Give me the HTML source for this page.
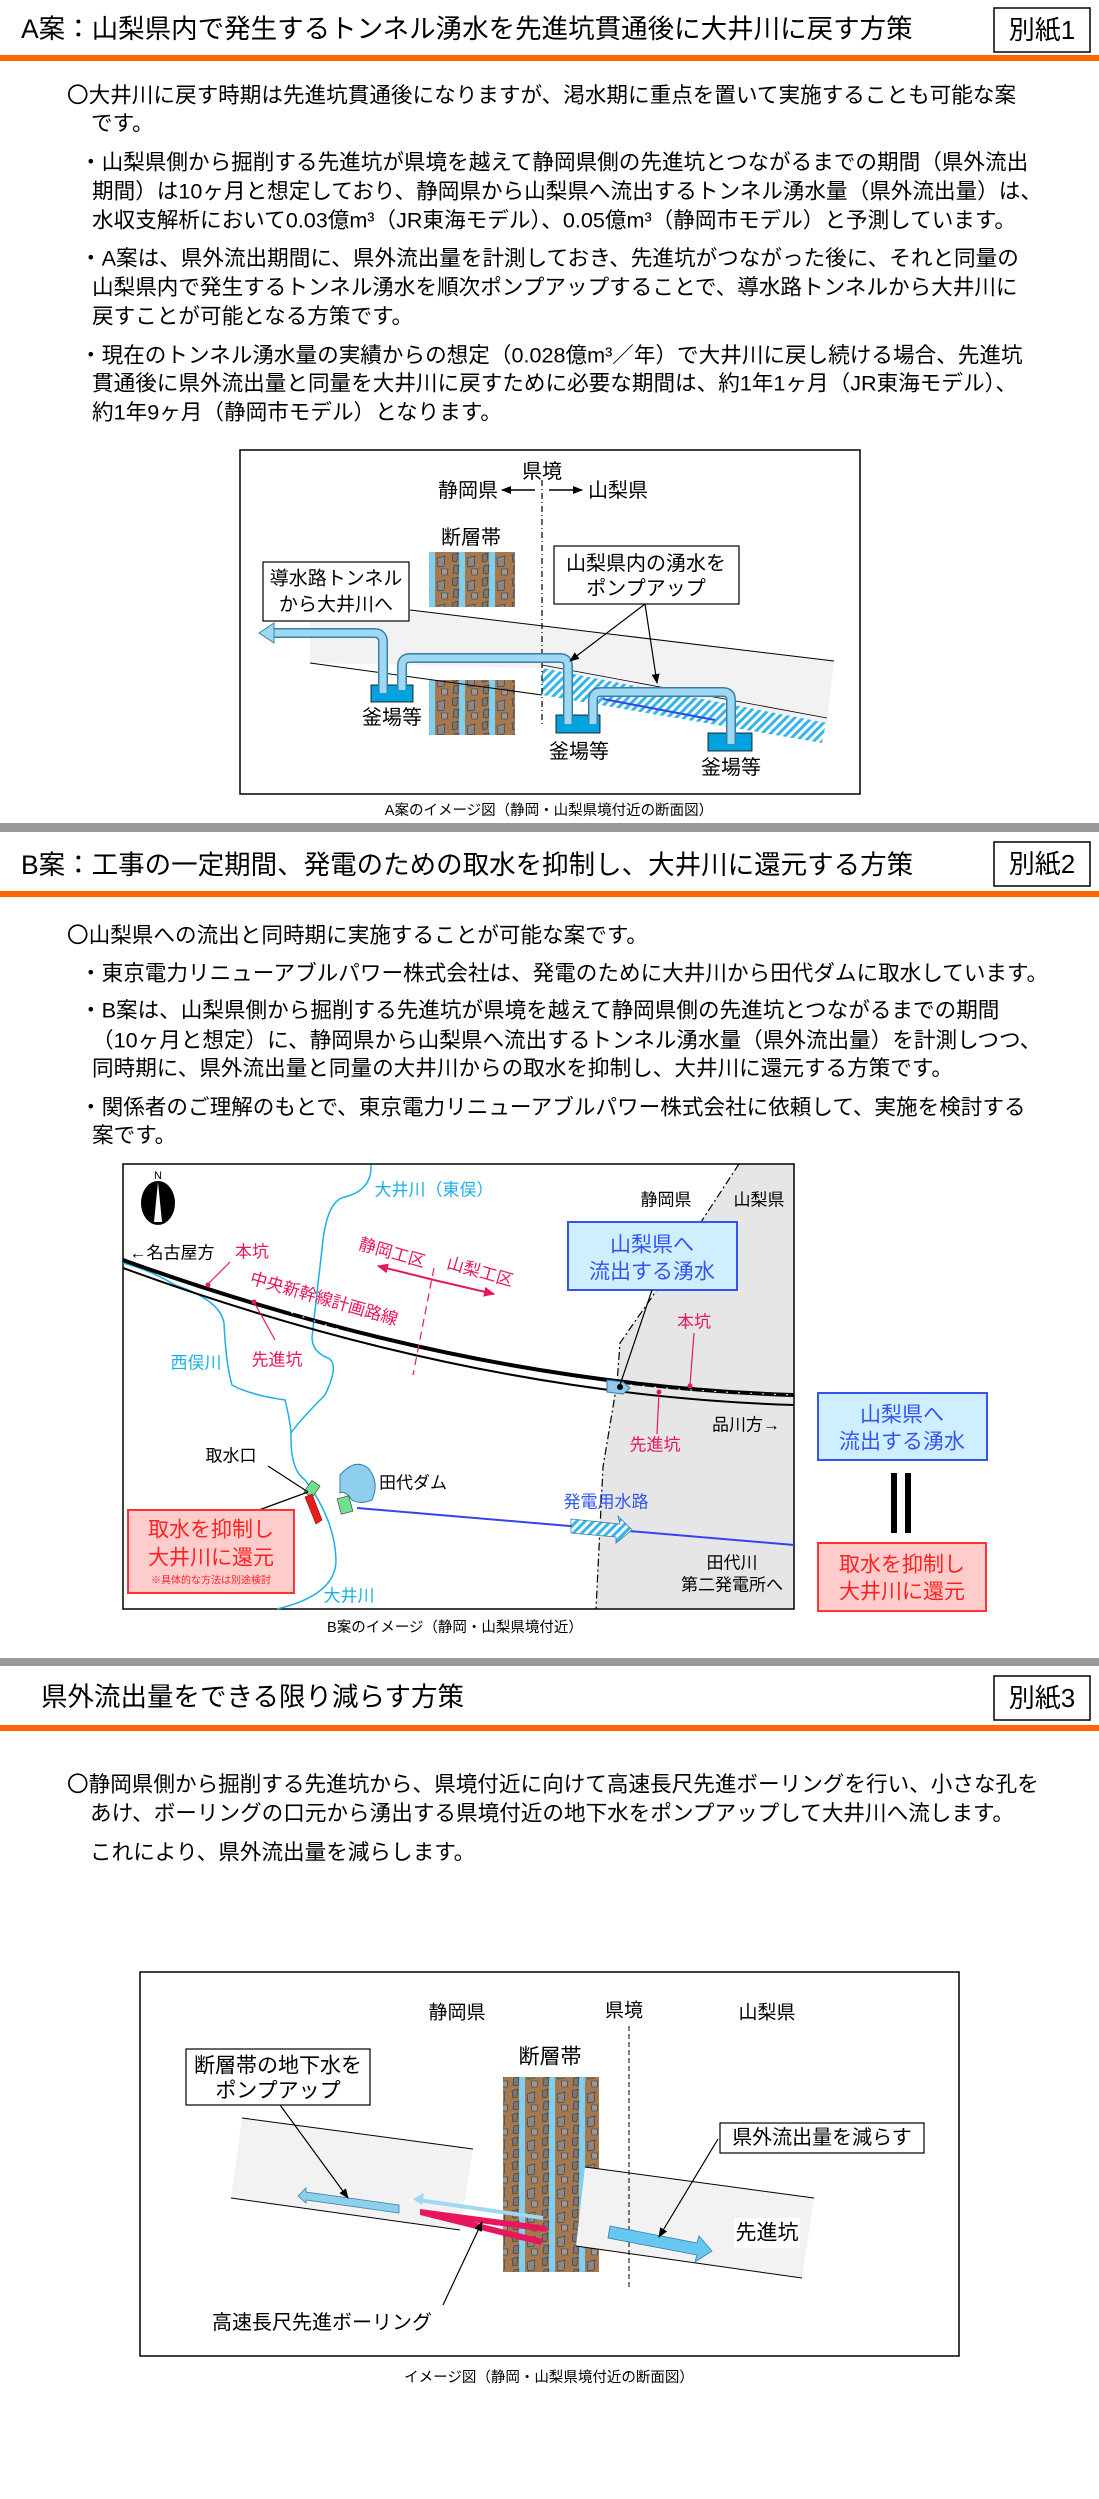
<!DOCTYPE html>
<html><head><meta charset="utf-8"><style>
html,body{margin:0;padding:0;background:#fff;}
svg{display:block;font-family:"Liberation Sans","Noto Sans CJK JP",sans-serif;}
</style></head><body>
<svg width="1099" height="2499" viewBox="0 0 1099 2499" xmlns="http://www.w3.org/2000/svg">
<defs>
<pattern id="hatch" width="6" height="6" patternUnits="userSpaceOnUse" patternTransform="rotate(45)">
<rect width="6" height="6" fill="#fff"/><rect width="3" height="6" fill="#33b5e8"/></pattern>
<pattern id="fault" width="30" height="24" patternUnits="userSpaceOnUse">
<rect width="30" height="24" fill="#a6784f"/>
<rect x="9" width="6" height="24" fill="#7fd0f0"/>
<polygon points="2,3 8,1 7,9 3,10" fill="#777" stroke="#333" stroke-width="0.6"/>
<polygon points="17,6 25,4 24,14 18,15" fill="#888" stroke="#333" stroke-width="0.6"/>
<polygon points="4,14 9,13 8,22 3,21" fill="#777" stroke="#333" stroke-width="0.6"/>
<polygon points="21,17 28,17 27,23 22,23" fill="#999" stroke="#333" stroke-width="0.6"/>
</pattern>
<marker id="ah" markerWidth="10" markerHeight="10" refX="9" refY="5" orient="auto" markerUnits="userSpaceOnUse"><path d="M0,1 L10,5 L0,9z" fill="#000"/></marker>
<marker id="ahp" markerWidth="12" markerHeight="12" refX="10" refY="6" orient="auto" markerUnits="userSpaceOnUse"><path d="M0,1 L11,6 L0,11z" fill="#e8175d"/></marker>
</defs>

<!-- ===== Section A ===== -->
<text x="21" y="29" font-size="26.5" dominant-baseline="central">A案：山梨県内で発生するトンネル湧水を先進坑貫通後に大井川に戻す方策</text>
<rect x="994" y="8" width="96" height="44" fill="none" stroke="#000" stroke-width="1.5"/>
<text x="1042" y="30" font-size="26" text-anchor="middle" dominant-baseline="central">別紙1</text>
<rect x="0" y="55" width="1099" height="6" fill="#ff6600"/>

<g font-size="21.6" dominant-baseline="central">
<text x="67" y="95">〇大井川に戻す時期は先進坑貫通後になりますが、渇水期に重点を置いて実施することも可能な案</text>
<text x="91" y="123">です。</text>
<text x="80" y="162">・山梨県側から掘削する先進坑が県境を越えて静岡県側の先進坑とつながるまでの期間（県外流出</text>
<text x="92" y="191">期間）は10ヶ月と想定しており、静岡県から山梨県へ流出するトンネル湧水量（県外流出量）は、</text>
<text x="92" y="220">水収支解析において0.03億m³（JR東海モデル）、0.05億m³（静岡市モデル）と予測しています。</text>
<text x="80" y="258">・A案は、県外流出期間に、県外流出量を計測しておき、先進坑がつながった後に、それと同量の</text>
<text x="92" y="287">山梨県内で発生するトンネル湧水を順次ポンプアップすることで、導水路トンネルから大井川に</text>
<text x="92" y="316">戻すことが可能となる方策です。</text>
<text x="80" y="355">・現在のトンネル湧水量の実績からの想定（0.028億m³／年）で大井川に戻し続ける場合、先進坑</text>
<text x="92" y="383">貫通後に県外流出量と同量を大井川に戻すために必要な期間は、約1年1ヶ月（JR東海モデル）、</text>
<text x="92" y="412">約1年9ヶ月（静岡市モデル）となります。</text>
</g>

<!-- Diagram A -->
<rect x="240" y="450" width="620" height="344" fill="#fff" stroke="#000" stroke-width="1.5"/>
<g font-size="20" dominant-baseline="central" text-anchor="middle">
<text x="542" y="472">県境</text>
<text x="468" y="491">静岡県</text>
<text x="618" y="491">山梨県</text>
<text x="471" y="538">断層帯</text>
<text x="787" y="690">先進坑</text>
<text x="392" y="718">釜場等</text>
<text x="579" y="752">釜場等</text>
<text x="731" y="768">釜場等</text>
</g>
<line x1="535" y1="490" x2="502" y2="490" stroke="#000" stroke-width="1.5" marker-end="url(#ah)"/>
<line x1="549" y1="490" x2="582" y2="490" stroke="#000" stroke-width="1.5" marker-end="url(#ah)"/>
<rect x="429" y="552" width="86" height="55" fill="url(#fault)"/>
<rect x="429" y="680" width="86" height="55" fill="url(#fault)"/>
<polygon points="542,665 827,718 822,743 542,695" fill="url(#hatch)"/>
<polygon points="310,598 834,661 827,723 542,668 310,663" fill="#f2f2f2"/>
<line x1="410" y1="610" x2="834" y2="661" stroke="#000" stroke-width="1"/>
<line x1="310" y1="663" x2="542" y2="695" stroke="#000" stroke-width="1"/>
<line x1="542" y1="665" x2="827" y2="718" stroke="#000" stroke-width="0.8"/>
<line x1="542" y1="480" x2="542" y2="727" stroke="#000" stroke-width="1.2" stroke-dasharray="6,3,1,3"/>
<rect x="371" y="685" width="42" height="17" fill="#00a2e0" stroke="#000" stroke-width="0.8"/>
<rect x="556" y="715" width="44" height="18" fill="#00a2e0" stroke="#000" stroke-width="0.8"/>
<rect x="708" y="733" width="44" height="18" fill="#00a2e0" stroke="#000" stroke-width="0.8"/>
<line x1="603" y1="699" x2="715" y2="720" stroke="#3344ee" stroke-width="2"/>
<path d="M383,693 V642 Q383,633 374,633 H272" fill="none" stroke="#3a7fa8" stroke-width="10"/>
<path d="M383,693 V642 Q383,633 374,633 H272" fill="none" stroke="#9fd8f2" stroke-width="7"/>
<polygon points="259,633 274,623 274,643" fill="#9fd8f2" stroke="#3a7fa8" stroke-width="1"/>
<path d="M568,724 V666 Q568,658 560,658 H410 Q402,658 402,666 V690" fill="none" stroke="#3a7fa8" stroke-width="10"/>
<path d="M568,724 V666 Q568,658 560,658 H410 Q402,658 402,666 V690" fill="none" stroke="#9fd8f2" stroke-width="7"/>
<path d="M731,744 V700 Q731,692 723,692 H601 Q593,692 593,700 V724" fill="none" stroke="#3a7fa8" stroke-width="10"/>
<path d="M731,744 V700 Q731,692 723,692 H601 Q593,692 593,700 V724" fill="none" stroke="#9fd8f2" stroke-width="7"/>
<rect x="263" y="562" width="146" height="59" fill="#fff" stroke="#000" stroke-width="1.2"/>
<text x="336" y="579" font-size="19" text-anchor="middle" dominant-baseline="central">導水路トンネル</text>
<text x="336" y="605" font-size="19" text-anchor="middle" dominant-baseline="central">から大井川へ</text>
<rect x="554" y="546" width="185" height="58" fill="#fff" stroke="#000" stroke-width="1.2"/>
<text x="646" y="564" font-size="20" text-anchor="middle" dominant-baseline="central">山梨県内の湧水を</text>
<text x="646" y="589" font-size="20" text-anchor="middle" dominant-baseline="central">ポンプアップ</text>
<line x1="645" y1="604" x2="570" y2="661" stroke="#000" stroke-width="1.2" marker-end="url(#ah)"/>
<line x1="645" y1="604" x2="657" y2="683" stroke="#000" stroke-width="1.2" marker-end="url(#ah)"/>
<text x="549" y="811" font-size="14.5" text-anchor="middle" dominant-baseline="central">A案のイメージ図（静岡・山梨県境付近の断面図）</text>
<rect x="0" y="823" width="1099" height="9" fill="#999"/>

<!-- ===== Section B ===== -->
<text x="21" y="865" font-size="26.5" dominant-baseline="central">B案：工事の一定期間、発電のための取水を抑制し、大井川に還元する方策</text>
<rect x="994" y="842" width="96" height="44" fill="none" stroke="#000" stroke-width="1.5"/>
<text x="1042" y="864" font-size="26" text-anchor="middle" dominant-baseline="central">別紙2</text>
<rect x="0" y="891" width="1099" height="6" fill="#ff6600"/>
<g font-size="21.6" dominant-baseline="central">
<text x="67" y="935">〇山梨県への流出と同時期に実施することが可能な案です。</text>
<text x="80" y="973">・東京電力リニューアブルパワー株式会社は、発電のために大井川から田代ダムに取水しています。</text>
<text x="80" y="1010">・B案は、山梨県側から掘削する先進坑が県境を越えて静岡県側の先進坑とつながるまでの期間</text>
<text x="92" y="1040">（10ヶ月と想定）に、静岡県から山梨県へ流出するトンネル湧水量（県外流出量）を計測しつつ、</text>
<text x="92" y="1068">同時期に、県外流出量と同量の大井川からの取水を抑制し、大井川に還元する方策です。</text>
<text x="80" y="1107">・関係者のご理解のもとで、東京電力リニューアブルパワー株式会社に依頼して、実施を検討する</text>
<text x="92" y="1135">案です。</text>
</g>

<!-- Map -->
<rect x="123" y="1164" width="671" height="445" fill="#fff"/>
<polygon points="739,1164 794,1164 794,1609 596,1609 603,1467 617,1383 620,1343 652,1297 701,1222" fill="#e6e6e6"/>
<polyline points="739,1164 701,1222 652,1297 620,1343 617,1383 603,1467 596,1609" fill="none" stroke="#000" stroke-width="1.2" stroke-dasharray="8,3,2,3"/>
<rect x="123" y="1164" width="671" height="445" fill="none" stroke="#000" stroke-width="1.5"/>
<path d="M371,1165 Q372,1190 345,1197 Q328,1200 323,1240 L312,1337 Q312,1352 328,1358 Q340,1364 325,1395 Q300,1420 291,1433 Q290,1470 305,1480 Q335,1520 336,1560 Q336,1595 277,1609" fill="none" stroke="#19b0e8" stroke-width="1.5"/>
<path d="M123,1263 Q150,1270 175,1285 Q220,1300 224,1323 Q226,1365 232,1385 Q250,1395 285,1400 Q290,1420 291,1433" fill="none" stroke="#19b0e8" stroke-width="1.5"/>
<path d="M123,1260 Q470,1385 794,1395" fill="none" stroke="#000" stroke-width="4"/>
<path d="M123,1268 Q470,1395 794,1405" fill="none" stroke="#000" stroke-width="2"/>
<path d="M280,1308 Q470,1385 794,1395" fill="none" stroke="#fff" stroke-width="1" stroke-dasharray="2,10"/>
<ellipse cx="158" cy="1203" rx="17" ry="22" fill="#000"/>
<polygon points="158,1182 154,1222 162,1222" fill="#fff"/>
<text x="158" y="1176" font-size="11" text-anchor="middle" dominant-baseline="central">N</text>
<g font-size="17" dominant-baseline="central">
<text x="434" y="1190" fill="#19b0e8" text-anchor="middle">大井川（東俣）</text>
<text x="666" y="1200" text-anchor="middle">静岡県</text>
<text x="759" y="1200" text-anchor="middle">山梨県</text>
<text x="172" y="1253" text-anchor="middle">←名古屋方</text>
<text x="252" y="1252" fill="#e8175d" text-anchor="middle">本坑</text>
<text x="196" y="1363" fill="#19b0e8" text-anchor="middle">西俣川</text>
<text x="277" y="1360" fill="#e8175d" text-anchor="middle">先進坑</text>
<text x="694" y="1322" fill="#e8175d" text-anchor="middle">本坑</text>
<text x="655" y="1445" fill="#e8175d" text-anchor="middle">先進坑</text>
<text x="746" y="1425" text-anchor="middle">品川方→</text>
<text x="231" y="1456" text-anchor="middle">取水口</text>
<text x="413" y="1483" text-anchor="middle">田代ダム</text>
<text x="606" y="1502" fill="#3355ee" text-anchor="middle">発電用水路</text>
<text x="349" y="1596" fill="#19b0e8" text-anchor="middle">大井川</text>
<text x="732" y="1563" text-anchor="middle">田代川</text>
<text x="732" y="1585" text-anchor="middle">第二発電所へ</text>
<text x="324" y="1299" fill="#e8175d" transform="rotate(16 324 1299)" text-anchor="middle">中央新幹線計画路線</text>
<text x="392" y="1253" fill="#e8175d" transform="rotate(16 392 1253)" text-anchor="middle">静岡工区</text>
<text x="480" y="1272" fill="#e8175d" transform="rotate(16 480 1272)" text-anchor="middle">山梨工区</text>
</g>
<line x1="434" y1="1280" x2="378" y2="1266" stroke="#e8175d" stroke-width="2" marker-end="url(#ahp)"/>
<line x1="434" y1="1280" x2="494" y2="1294" stroke="#e8175d" stroke-width="2" marker-end="url(#ahp)"/>
<line x1="434" y1="1268" x2="413" y2="1375" stroke="#e8175d" stroke-width="1.2" stroke-dasharray="8,5"/>
<line x1="230" y1="1262" x2="208" y2="1284" stroke="#e8175d" stroke-width="1.2"/><circle cx="208" cy="1285" r="2.5" fill="#e8175d"/>
<line x1="275" y1="1340" x2="254" y2="1302" stroke="#e8175d" stroke-width="1.2"/><circle cx="254" cy="1302" r="2.5" fill="#e8175d"/>
<line x1="694" y1="1333" x2="690" y2="1385" stroke="#e8175d" stroke-width="1.2"/><circle cx="690" cy="1386" r="2.5" fill="#e8175d"/>
<line x1="657" y1="1434" x2="659" y2="1392" stroke="#e8175d" stroke-width="1.2"/><circle cx="659" cy="1392" r="2.5" fill="#e8175d"/>
<polygon points="607,1380 623,1382 630,1388 623,1394 607,1392" fill="#8ec8ea" stroke="#3a7fa8"/>
<circle cx="620" cy="1387" r="3" fill="#000"/>
<rect x="568" y="1222" width="169" height="68" fill="#cfeeff" stroke="#3355ee" stroke-width="2"/>
<text x="652" y="1245" font-size="21" fill="#3355ee" text-anchor="middle" dominant-baseline="central">山梨県へ</text>
<text x="652" y="1272" font-size="21" fill="#3355ee" text-anchor="middle" dominant-baseline="central">流出する湧水</text>
<line x1="652" y1="1290" x2="620" y2="1385" stroke="#000" stroke-width="1.2"/>
<path d="M340,1475 Q355,1458 368,1468 Q380,1482 372,1500 Q360,1505 352,1500 Q345,1490 340,1493 Z" fill="#8ecfee" stroke="#3a7fa8"/>
<rect x="307" y="1482" width="10" height="14" fill="#6fe08f" stroke="#333" stroke-width="0.6" transform="rotate(35 312 1489)"/>
<rect x="339" y="1497" width="12" height="16" fill="#6fe08f" stroke="#333" stroke-width="0.6" transform="rotate(-15 345 1505)"/>
<polygon points="305,1497 312,1494 322,1520 316,1524" fill="#e81e1e" stroke="#900" stroke-width="0.6"/>
<line x1="357" y1="1508" x2="794" y2="1545" stroke="#3344ee" stroke-width="2"/>
<polygon points="571,1519 620,1524 618,1516 632,1530 616,1543 616,1537 571,1533" fill="url(#hatch)" stroke="#3a7fa8" stroke-width="0.8"/>
<line x1="268" y1="1466" x2="308" y2="1492" stroke="#000" stroke-width="1.2"/>
<line x1="308" y1="1492" x2="259" y2="1510" stroke="#000" stroke-width="1.2"/>
<rect x="128" y="1510" width="166" height="83" fill="#ffcccc" stroke="#ff3333" stroke-width="2"/>
<text x="211" y="1530" font-size="21" fill="#ff2222" text-anchor="middle" dominant-baseline="central">取水を抑制し</text>
<text x="211" y="1558" font-size="21" fill="#ff2222" text-anchor="middle" dominant-baseline="central">大井川に還元</text>
<text x="211" y="1581" font-size="10" fill="#ff2222" text-anchor="middle" dominant-baseline="central">※具体的な方法は別途検討</text>
<text x="455" y="1628" font-size="14.5" text-anchor="middle" dominant-baseline="central">B案のイメージ（静岡・山梨県境付近）</text>
<rect x="818" y="1393" width="169" height="67" fill="#cfeeff" stroke="#3355ee" stroke-width="2"/>
<text x="902" y="1415" font-size="21" fill="#3355ee" text-anchor="middle" dominant-baseline="central">山梨県へ</text>
<text x="902" y="1442" font-size="21" fill="#3355ee" text-anchor="middle" dominant-baseline="central">流出する湧水</text>
<rect x="891" y="1473" width="6" height="60" fill="#000"/><rect x="905" y="1473" width="6" height="60" fill="#000"/>
<rect x="818" y="1543" width="168" height="68" fill="#ffcccc" stroke="#ff3333" stroke-width="2"/>
<text x="902" y="1565" font-size="21" fill="#ff2222" text-anchor="middle" dominant-baseline="central">取水を抑制し</text>
<text x="902" y="1592" font-size="21" fill="#ff2222" text-anchor="middle" dominant-baseline="central">大井川に還元</text>
<rect x="0" y="1658" width="1099" height="8" fill="#999"/>

<!-- ===== Section C ===== -->
<text x="41" y="1697" font-size="26.5" dominant-baseline="central">県外流出量をできる限り減らす方策</text>
<rect x="994" y="1676" width="96" height="44" fill="none" stroke="#000" stroke-width="1.5"/>
<text x="1042" y="1698" font-size="26" text-anchor="middle" dominant-baseline="central">別紙3</text>
<rect x="0" y="1725" width="1099" height="6" fill="#ff6600"/>
<g font-size="21.6" dominant-baseline="central">
<text x="67" y="1784">〇静岡県側から掘削する先進坑から、県境付近に向けて高速長尺先進ボーリングを行い、小さな孔を</text>
<text x="90" y="1813">あけ、ボーリングの口元から湧出する県境付近の地下水をポンプアップして大井川へ流します。</text>
<text x="90" y="1852">これにより、県外流出量を減らします。</text>
</g>
<rect x="140" y="1972" width="819" height="384" fill="#fff" stroke="#000" stroke-width="1.5"/>
<g font-size="19" dominant-baseline="central" text-anchor="middle">
<text x="457" y="2013">静岡県</text>
<text x="624" y="2011">県境</text>
<text x="767" y="2013">山梨県</text>
<text x="550" y="2057" font-size="21">断層帯</text>
<text x="322" y="2323" font-size="20">高速長尺先進ボーリング</text>
</g>
<polygon points="242,2118 473,2149 460,2230 231,2198" fill="#f2f2f2"/>
<line x1="242" y1="2118" x2="473" y2="2149" stroke="#000"/><line x1="231" y1="2198" x2="460" y2="2230" stroke="#000"/>
<rect x="503" y="2077" width="96" height="195" fill="url(#fault)"/>
<polygon points="585,2167 814,2198 802,2278 576,2246" fill="#f2f2f2"/>
<line x1="585" y1="2167" x2="814" y2="2198" stroke="#000"/><line x1="576" y1="2246" x2="802" y2="2278" stroke="#000"/>
<line x1="629" y1="2026" x2="629" y2="2287" stroke="#000" stroke-width="1" stroke-dasharray="5,3"/>
<rect x="734" y="2218" width="66" height="30" fill="#fff"/>
<text x="767" y="2233" font-size="21" text-anchor="middle" dominant-baseline="central">先進坑</text>
<polygon points="399,2205 306,2192 306,2188 298,2196 306,2203 306,2200 399,2213" fill="#8ecfee" stroke="#3a7fa8" stroke-width="0.8"/>
<line x1="543" y1="2218" x2="418" y2="2200" stroke="#9fd8f2" stroke-width="4"/>
<polygon points="413,2199 424,2193 422,2205" fill="#9fd8f2"/>
<polygon points="420,2209 547,2226 546,2232 420,2215" fill="#e8175d"/>
<polygon points="420,2209 543,2239 541,2245 420,2215" fill="#e8175d"/>
<polygon points="610,2226 697,2243 699,2236 712,2251 695,2262 697,2255 608,2238" fill="#66c8f0" stroke="#3a7fa8" stroke-width="0.8"/>
<rect x="186" y="2049" width="184" height="56" fill="#fff" stroke="#000" stroke-width="1.2"/>
<text x="278" y="2066" font-size="21" text-anchor="middle" dominant-baseline="central">断層帯の地下水を</text>
<text x="278" y="2091" font-size="21" text-anchor="middle" dominant-baseline="central">ポンプアップ</text>
<rect x="720" y="2123" width="204" height="30" fill="#fff" stroke="#000" stroke-width="1.2"/>
<text x="822" y="2138" font-size="20" text-anchor="middle" dominant-baseline="central">県外流出量を減らす</text>
<line x1="280" y1="2105" x2="348" y2="2198" stroke="#000" stroke-width="1.2" marker-end="url(#ah)"/>
<line x1="718" y1="2139" x2="659" y2="2237" stroke="#000" stroke-width="1.2" marker-end="url(#ah)"/>
<line x1="443" y1="2305" x2="482" y2="2222" stroke="#000" stroke-width="1.2" marker-end="url(#ah)"/>
<text x="549" y="2378" font-size="14.5" text-anchor="middle" dominant-baseline="central">イメージ図（静岡・山梨県境付近の断面図）</text>
</svg>
</body></html>
